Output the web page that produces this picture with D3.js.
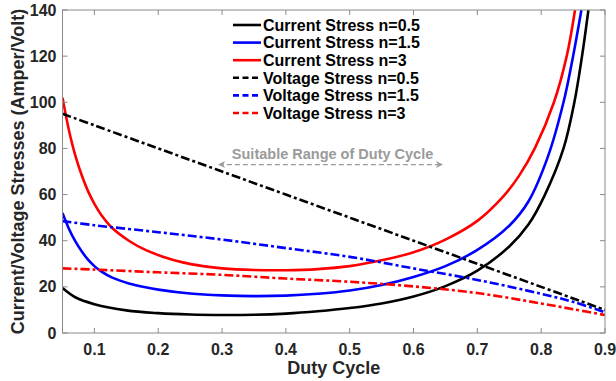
<!DOCTYPE html>
<html>
<head>
<meta charset="utf-8">
<script src="https://cdn.jsdelivr.net/npm/d3@7"></script>
<style>
  html, body { margin: 0; padding: 0; background: #fff; }
  svg { display: block; font-family: "Liberation Sans", Arial, sans-serif; }
</style>
</head>
<body>
<div id="chart"></div>
<script>
// ---------------------------------------------------------------------------
// Data
// ---------------------------------------------------------------------------
const xTicks = [0.1, 0.2, 0.3, 0.4, 0.5, 0.6, 0.7, 0.8, 0.9];
const yTicks = [0, 20, 40, 60, 80, 100, 120, 140];

// current stress curves: [duty, value]
const currentN05 = [
  [0.05, 19.5], [0.07, 15.5], [0.1, 12.5], [0.15, 9.8], [0.2, 8.6], [0.25, 8.0],
  [0.3, 7.8], [0.35, 7.9], [0.4, 8.4], [0.45, 9.4], [0.5, 10.8], [0.55, 12.8],
  [0.6, 15.8], [0.65, 20.3], [0.7, 27], [0.75, 37.5], [0.78, 47], [0.806, 60],
  [0.835, 80], [0.852, 100], [0.864, 120], [0.874, 140],
];
const currentN15 = [
  [0.05, 52], [0.06, 45.2], [0.07, 39.8], [0.08, 35.4], [0.09, 31.8], [0.1, 29],
  [0.11, 26.8], [0.128, 24], [0.154, 21.5], [0.18, 19.8], [0.2, 18.8], [0.25, 17.1],
  [0.3, 16.3], [0.35, 16], [0.4, 16.2], [0.45, 17], [0.5, 18.4], [0.55, 20.8],
  [0.6, 24.3], [0.65, 29], [0.7, 36], [0.75, 46.5], [0.78, 57], [0.81, 76],
  [0.835, 100], [0.85, 120], [0.863, 140],
];
const currentN3 = [
  [0.05, 102], [0.06, 88], [0.07, 77], [0.08, 68.5], [0.09, 61.5], [0.1, 56],
  [0.11, 51.5], [0.128, 45.5], [0.154, 40], [0.18, 36], [0.206, 33.2], [0.24, 30.5],
  [0.27, 29], [0.3, 28], [0.35, 27.3], [0.4, 27.2], [0.45, 27.7], [0.5, 29],
  [0.55, 31.5], [0.6, 35], [0.65, 40.5], [0.7, 48.6], [0.74, 59], [0.765, 68],
  [0.79, 80], [0.82, 100], [0.84, 120], [0.853, 140],
];

// voltage stress curves
const voltageN05 = [
  [0.05, 95], [0.1, 90], [0.2, 80], [0.3, 70], [0.4, 60], [0.5, 50],
  [0.6, 40], [0.7, 30], [0.8, 20], [0.9, 10],
];
const voltageN15 = [
  [0.05, 48.5], [0.1, 46.7], [0.2, 43.7], [0.3, 40.5], [0.4, 36.8], [0.5, 33],
  [0.6, 28], [0.7, 23], [0.8, 17], [0.85, 13.5], [0.9, 9],
];
const voltageN3 = [
  [0.05, 28], [0.1, 27.5], [0.2, 26.3], [0.3, 25.2], [0.4, 23.6], [0.5, 22.2],
  [0.6, 20.2], [0.7, 17.3], [0.8, 12.8], [0.85, 10.3], [0.9, 7.8],
];

const seriesNames = [
  'Current Stress n=0.5', 'Current Stress n=1.5', 'Current Stress n=3',
  'Voltage Stress n=0.5', 'Voltage Stress n=1.5', 'Voltage Stress n=3',
];
const seriesColors = ['#000000', '#0000ff', '#ff0000', '#000000', '#0000ff', '#ff0000'];
const seriesData = [currentN05, currentN15, currentN3, voltageN05, voltageN15, voltageN3];
const seriesDashed = [false, false, false, true, true, true];

// annotation: suitable duty range
const rangeLabel = 'Suitable Range of Duty Cycle';
const rangeDuty = [0.295, 0.645];
const rangeLevel = 73;

// ---------------------------------------------------------------------------
// Layout
// ---------------------------------------------------------------------------
const width = 616, height = 381;
const plotLeft = 62.5, plotRight = 605, plotTop = 10, plotBottom = 333;
const axisColor = '#8a8a8a';
const textColor = '#262626';

const svg = d3.select('#chart').append('svg')
  .attr('width', width)
  .attr('height', height);

const x = d3.scaleLinear().domain([0.05, 0.9]).range([plotLeft, plotRight]);
const y = d3.scaleLinear().domain([0, 140]).range([plotBottom, plotTop]);

const defs = svg.append('defs');
defs.append('clipPath').attr('id', 'plot-clip')
  .append('rect')
  .attr('x', plotLeft).attr('y', plotTop)
  .attr('width', plotRight - plotLeft).attr('height', plotBottom - plotTop);

// ---------------------------------------------------------------------------
// Curves
// ---------------------------------------------------------------------------
const line = d3.line()
  .x(d => x(d[0]))
  .y(d => y(d[1]))
  .curve(d3.curveCatmullRom.alpha(0.5));

const plot = svg.append('g').attr('clip-path', 'url(#plot-clip)');
seriesData.forEach((data, i) => {
  plot.append('path')
    .attr('d', line(data))
    .attr('fill', 'none')
    .attr('stroke', seriesColors[i])
    .attr('stroke-width', 2.6)
    .attr('stroke-dasharray', seriesDashed[i] ? '9,3,3,3' : null);
});

// ---------------------------------------------------------------------------
// Axes (box with inward ticks on all sides)
// ---------------------------------------------------------------------------
const tickLen = 5;
const axisG = svg.append('g');

axisG.append('rect')
  .attr('x', plotLeft).attr('y', plotTop)
  .attr('width', plotRight - plotLeft).attr('height', plotBottom - plotTop)
  .attr('fill', 'none')
  .attr('stroke', axisColor)
  .attr('stroke-width', 1);

axisG.selectAll('.xt-bottom').data(xTicks).join('line')
  .attr('class', 'xt-bottom')
  .attr('x1', d => x(d)).attr('x2', d => x(d))
  .attr('y1', plotBottom).attr('y2', plotBottom - tickLen)
  .attr('stroke', axisColor);
axisG.selectAll('.xt-top').data(xTicks).join('line')
  .attr('class', 'xt-top')
  .attr('x1', d => x(d)).attr('x2', d => x(d))
  .attr('y1', plotTop).attr('y2', plotTop + tickLen)
  .attr('stroke', axisColor);
axisG.selectAll('.yt-left').data(yTicks).join('line')
  .attr('class', 'yt-left')
  .attr('x1', plotLeft).attr('x2', plotLeft + tickLen)
  .attr('y1', d => y(d)).attr('y2', d => y(d))
  .attr('stroke', axisColor);
axisG.selectAll('.yt-right').data(yTicks).join('line')
  .attr('class', 'yt-right')
  .attr('x1', plotRight).attr('x2', plotRight - tickLen)
  .attr('y1', d => y(d)).attr('y2', d => y(d))
  .attr('stroke', axisColor);

// tick labels
svg.append('g').selectAll('text').data(xTicks).join('text')
  .attr('x', d => x(d))
  .attr('y', plotBottom + 22)
  .attr('text-anchor', 'middle')
  .attr('fill', textColor)
  .style('font-size', '16px')
  .style('font-weight', 'bold')
  .text(d => d3.format('.1f')(d));

svg.append('g').selectAll('text').data(yTicks).join('text')
  .attr('x', plotLeft - 6)
  .attr('y', d => y(d))
  .attr('dy', '0.35em')
  .attr('text-anchor', 'end')
  .attr('fill', textColor)
  .style('font-size', '16px')
  .style('font-weight', 'bold')
  .text(d => d);

// axis titles
svg.append('text')
  .attr('x', (plotLeft + plotRight) / 2)
  .attr('y', 374)
  .attr('text-anchor', 'middle')
  .attr('fill', textColor)
  .style('font-size', '18px')
  .style('font-weight', 'bold')
  .text('Duty Cycle');

svg.append('text')
  .attr('transform', `translate(24,${(plotTop + plotBottom) / 2}) rotate(-90)`)
  .attr('text-anchor', 'middle')
  .attr('fill', textColor)
  .style('font-size', '18px')
  .style('font-weight', 'bold')
  .text('Current/Voltage Stresses (Amper/Volt)');

// ---------------------------------------------------------------------------
// Annotation arrow
// ---------------------------------------------------------------------------
const annColor = '#9a9a9a';
defs.append('marker')
  .attr('id', 'arrow-end')
  .attr('viewBox', '0 0 10 10')
  .attr('refX', 9).attr('refY', 5)
  .attr('markerWidth', 9).attr('markerHeight', 7)
  .attr('markerUnits', 'userSpaceOnUse')
  .attr('orient', 'auto-start-reverse')
  .append('path')
  .attr('d', 'M0,0L10,5L0,10L3,5Z')
  .attr('fill', annColor);

svg.append('line')
  .attr('x1', x(rangeDuty[0])).attr('x2', x(rangeDuty[1]))
  .attr('y1', y(rangeLevel)).attr('y2', y(rangeLevel))
  .attr('stroke', annColor)
  .attr('stroke-width', 1.3)
  .attr('stroke-dasharray', '5,3')
  .attr('marker-start', 'url(#arrow-end)')
  .attr('marker-end', 'url(#arrow-end)');

svg.append('text')
  .attr('x', x((rangeDuty[0] + rangeDuty[1]) / 2) + 2)
  .attr('y', y(rangeLevel) - 6)
  .attr('text-anchor', 'middle')
  .attr('fill', annColor)
  .style('font-size', '14.5px')
  .style('font-weight', 'bold')
  .text(rangeLabel);

// ---------------------------------------------------------------------------
// Legend
// ---------------------------------------------------------------------------
const legend = svg.append('g').attr('transform', 'translate(233,25)');
seriesNames.forEach((name, i) => {
  const row = legend.append('g').attr('transform', `translate(0,${i * 17.6})`);
  row.append('line')
    .attr('x1', 0).attr('x2', 28)
    .attr('y1', 0).attr('y2', 0)
    .attr('stroke', seriesColors[i])
    .attr('stroke-width', 2.6)
    .attr('stroke-dasharray', seriesDashed[i] ? '6,3.5' : null);
  row.append('text')
    .attr('x', 30)
    .attr('y', 0)
    .attr('dy', '0.36em')
    .attr('fill', '#000')
    .style('font-size', '16px')
    .style('font-weight', 'bold')
    .text(name);
});
</script>
</body>
</html>
